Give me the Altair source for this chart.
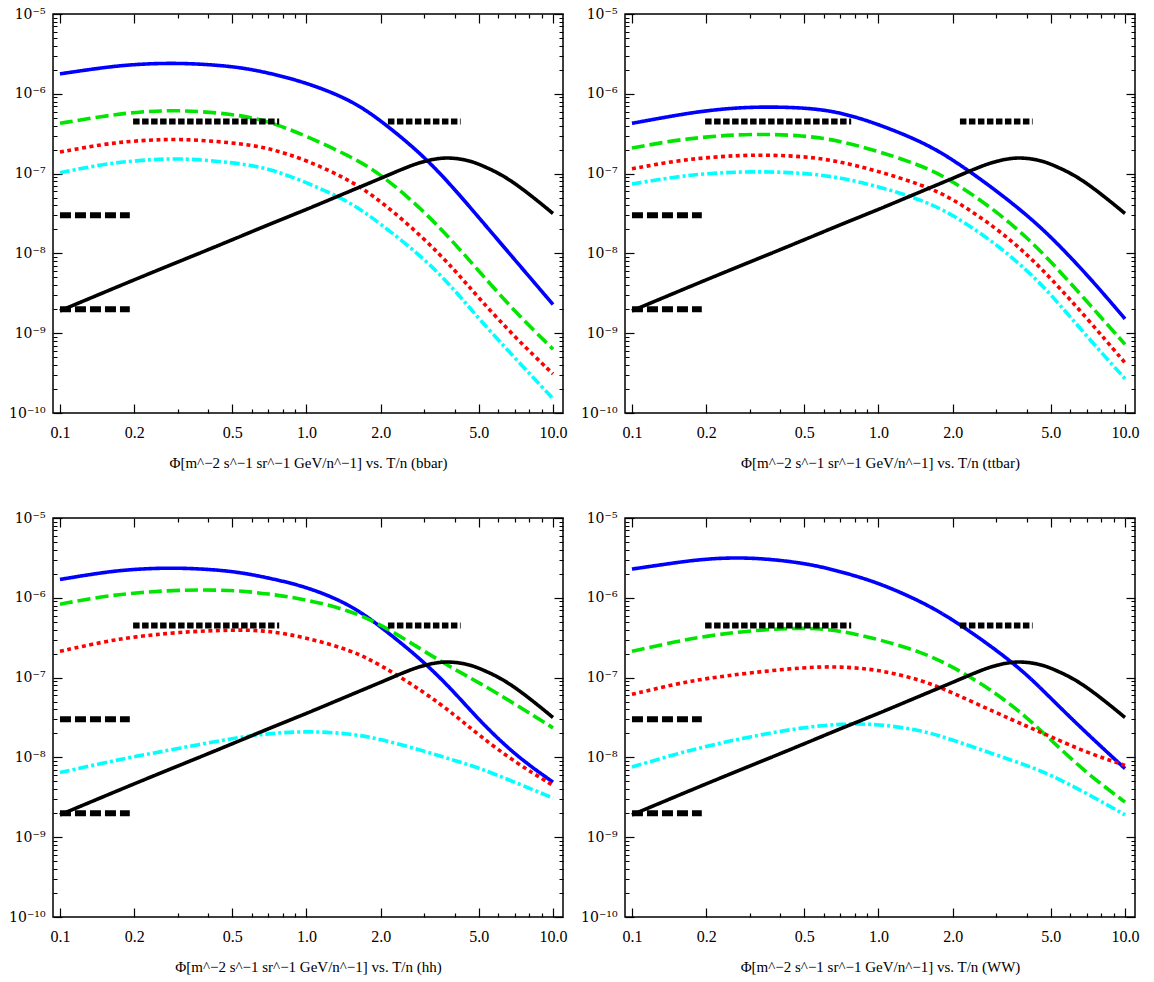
import altair as alt
import pandas as pd

# ---------------- data ----------------
# kinetic energy per nucleon T/n [GeV/n]
X = [0.1, 0.15, 0.2, 0.3, 0.5, 0.7, 1.0, 1.5, 2.0, 3.0, 4.0, 5.0, 7.0, 10.0]

# log10 of flux, one array per curve and panel
bbar_blue = [-5.75, -5.67, -5.63, -5.61, -5.65, -5.735, -5.86, -6.07, -6.33, -6.78, -7.20, -7.55, -8.08, -8.64]
bbar_green = [-6.37, -6.28, -6.23, -6.20, -6.25, -6.34, -6.53, -6.78, -7.00, -7.47, -7.88, -8.22, -8.73, -9.20]
bbar_red = [-6.73, -6.63, -6.59, -6.56, -6.61, -6.675, -6.83, -7.08, -7.34, -7.81, -8.21, -8.56, -9.05, -9.51]
bbar_cyan = [-6.99, -6.88, -6.84, -6.80, -6.86, -6.93, -7.11, -7.35, -7.63, -8.06, -8.46, -8.82, -9.31, -9.82]

ttbar_blue = [-6.37, -6.27, -6.21, -6.16, -6.17, -6.23, -6.38, -6.60, -6.82, -7.21, -7.52, -7.79, -8.26, -8.82]
ttbar_green = [-6.68, -6.58, -6.54, -6.50, -6.52, -6.59, -6.72, -6.90, -7.09, -7.47, -7.80, -8.10, -8.60, -9.14]
ttbar_red = [-6.94, -6.84, -6.80, -6.76, -6.78, -6.85, -6.97, -7.14, -7.31, -7.68, -8.01, -8.31, -8.81, -9.37]
ttbar_cyan = [-7.13, -7.04, -7.00, -6.97, -6.99, -7.05, -7.16, -7.33, -7.51, -7.88, -8.21, -8.51, -9.04, -9.57]

hh_blue = [-5.77, -5.68, -5.64, -5.62, -5.66, -5.75, -5.86, -6.08, -6.36, -6.80, -7.19, -7.53, -7.97, -8.31]
hh_green = [-6.08, -5.98, -5.94, -5.90, -5.90, -5.95, -6.02, -6.16, -6.33, -6.67, -6.90, -7.06, -7.33, -7.63]
hh_red = [-6.67, -6.55, -6.49, -6.43, -6.40, -6.41, -6.50, -6.65, -6.84, -7.18, -7.47, -7.72, -8.06, -8.35]
hh_cyan = [-8.19, -8.07, -7.99, -7.89, -7.76, -7.70, -7.67, -7.70, -7.77, -7.92, -8.04, -8.13, -8.31, -8.51]

ww_blue = [-5.64, -5.56, -5.51, -5.49, -5.56, -5.67, -5.81, -6.05, -6.27, -6.65, -6.96, -7.26, -7.70, -8.14]
ww_green = [-6.67, -6.55, -6.48, -6.41, -6.37, -6.41, -6.52, -6.68, -6.86, -7.19, -7.50, -7.78, -8.20, -8.56]
ww_red = [-7.21, -7.08, -7.01, -6.94, -6.87, -6.86, -6.90, -7.03, -7.19, -7.44, -7.61, -7.74, -7.94, -8.10]
ww_cyan = [-8.12, -7.96, -7.86, -7.74, -7.62, -7.58, -7.58, -7.66, -7.78, -7.97, -8.10, -8.22, -8.45, -8.72]

# background curve (black solid), same in all panels
X_BG = [0.1, 0.2, 0.3, 0.5, 0.7, 1.0, 1.5, 2.0, 2.5, 3.0, 3.7, 4.5, 5.0, 6.0, 7.0, 8.5, 10.0]
BG = [-8.72, -8.33, -8.11, -7.83, -7.64, -7.45, -7.22, -7.06, -6.93, -6.84, -6.79, -6.83, -6.88, -6.99, -7.12, -7.32, -7.50]

# experimental sensitivity segments (black, dashed)
SEG_X1 = [0.1, 0.1, 0.198, 2.14]
SEG_X2 = [0.192, 0.192, 0.775, 4.22]
SEG_Y = [3e-8, 2e-9, 4.5e-7, 4.5e-7]
SEG_KIND = ["long", "long", "square", "square"]

PANELS = [
    ("bbar", bbar_blue, bbar_green, bbar_red, bbar_cyan),
    ("ttbar", ttbar_blue, ttbar_green, ttbar_red, ttbar_cyan),
    ("hh", hh_blue, hh_green, hh_red, hh_cyan),
    ("WW", ww_blue, ww_green, ww_red, ww_cyan),
]

X_MAJOR = [0.1, 0.2, 0.5, 1, 2, 5, 10]
X_MINOR = [0.3, 0.4, 0.6, 0.7, 0.8, 0.9, 3, 4, 6, 7, 8, 9]
Y_TICKS = [m * 10.0 ** e for e in range(-10, -4) for m in range(1, 10) if m * 10.0 ** e <= 1.0001e-5]

SERIES = ["blue", "green", "red", "cyan", "background"]
COLORS = ["#0000ff", "#00e600", "#ff0000", "#00ffff", "#000000"]
DASHES = [[1, 0], [13, 5], [4, 3.5], [10, 3, 3, 3], [1, 0]]

FONT = "Liberation Serif"

# ---------------- axes helpers ----------------
x_major_test = "indexof([0.1,0.2,0.5,1,2,5,10], datum.value) >= 0"
lg = "(log(datum.value)/LN10)"
y_major_test = f"abs({lg} - round({lg})) < 0.01"
sup = {-5: "⁻⁵", -6: "⁻⁶", -7: "⁻⁷", -8: "⁻⁸", -9: "⁻⁹", -10: "⁻¹⁰"}
inner = "''"
for e, s in sup.items():
    inner = f"round({lg}) == {e} ? '10{s}' : ({inner})"
y_label_expr = f"{y_major_test} ? ({inner}) : ''"
x_label_expr = f"{x_major_test} ? format(datum.value, '.1f') : ''"

x_dash = {"condition": {"test": x_major_test, "value": [9, 0]}, "value": [0, 5, 4, 0]}
y_dash = {"condition": {"test": y_major_test, "value": [9, 0]}, "value": [0, 5, 4, 0]}

xs = alt.Scale(type="log", domain=[0.0937, 10.98], nice=False)
ys = alt.Scale(type="log", domain=[1e-10, 1e-5], nice=False)


def make_panel(name, blue, green, red, cyan):
    rows = []
    for s, vals in zip(SERIES[:4], [blue, green, red, cyan]):
        for x, v in zip(X, vals):
            rows.append({"x": x, "flux": 10.0 ** v, "series": s})
    for x, v in zip(X_BG, BG):
        rows.append({"x": x, "flux": 10.0 ** v, "series": "background"})
    df = pd.DataFrame(rows)
    seg = pd.DataFrame({"x1": SEG_X1, "x2": SEG_X2, "y": SEG_Y, "kind": SEG_KIND})

    x_axis = alt.Axis(
        values=X_MAJOR + X_MINOR, labelExpr=x_label_expr, tickSize=9, offset=-9,
        tickDash=x_dash, domain=False, grid=False, labelPadding=11,
        labelFlush=False, labelOverlap=False, labelFontSize=16,
        title=f"Φ[m^−2 s^−1 sr^−1 GeV/n^−1] vs. T/n  ({name})",
        titlePadding=15,
    )
    y_axis = alt.Axis(
        values=Y_TICKS, labelExpr=y_label_expr, tickSize=9, offset=-9,
        tickDash=y_dash, domain=False, grid=False, labelPadding=8,
        labelFlush=False, labelOverlap=False, title="",
        labelFont="DejaVu Serif", labelFontSize=14,
        minExtent=38, maxExtent=38,
    )
    x_top = alt.Axis(
        orient="top", values=X_MAJOR + X_MINOR, labels=False, tickSize=9, offset=-9,
        tickDash=x_dash, domain=False, grid=False, title="", minExtent=0, maxExtent=0,
    )
    y_right = alt.Axis(
        orient="right", values=Y_TICKS, labels=False, tickSize=9, offset=-9,
        tickDash=y_dash, domain=False, grid=False, title="", minExtent=0, maxExtent=0,
    )

    lines = alt.Chart(df).mark_line(strokeWidth=3.6, interpolate="basis", strokeCap="butt").encode(
        x=alt.X("x:Q", scale=xs, axis=x_axis),
        y=alt.Y("flux:Q", scale=ys, axis=y_axis),
        color=alt.Color("series:N", scale=alt.Scale(domain=SERIES, range=COLORS), legend=None),
        strokeDash=alt.StrokeDash("series:N", scale=alt.Scale(domain=SERIES, range=DASHES), legend=None),
    )
    segs = alt.Chart(seg).mark_rule(strokeWidth=6, color="black", strokeCap="butt").encode(
        x=alt.X("x1:Q", scale=xs, axis=x_top),
        x2="x2:Q",
        y=alt.Y("y:Q", scale=ys, axis=y_right),
        strokeDash=alt.StrokeDash("kind:N", scale=alt.Scale(domain=["long", "square"], range=[[11, 4], [6.5, 2.5]]), legend=None),
    )
    return (
        alt.layer(lines, segs)
        .resolve_axis(x="independent", y="independent")
        .resolve_scale(strokeDash="independent")
        .properties(width=510, height=399)
    )


p = [make_panel(*args) for args in PANELS]
chart = alt.vconcat(
    alt.hconcat(p[0], p[1], spacing=11),
    alt.hconcat(p[2], p[3], spacing=11),
    spacing=39,
).properties(
    padding={"left": 7, "top": 6, "right": 5, "bottom": 5},
    background="white",
).configure_view(
    stroke="black", strokeWidth=1.5,
).configure_axis(
    labelFont=FONT, labelFontSize=16, labelColor="black",
    titleFont=FONT, titleFontSize=15, titleFontWeight="normal", titleColor="black",
    tickColor="black", tickWidth=1.2,
)

chart.save("out.html", embed_options={"renderer": "svg", "actions": False})
